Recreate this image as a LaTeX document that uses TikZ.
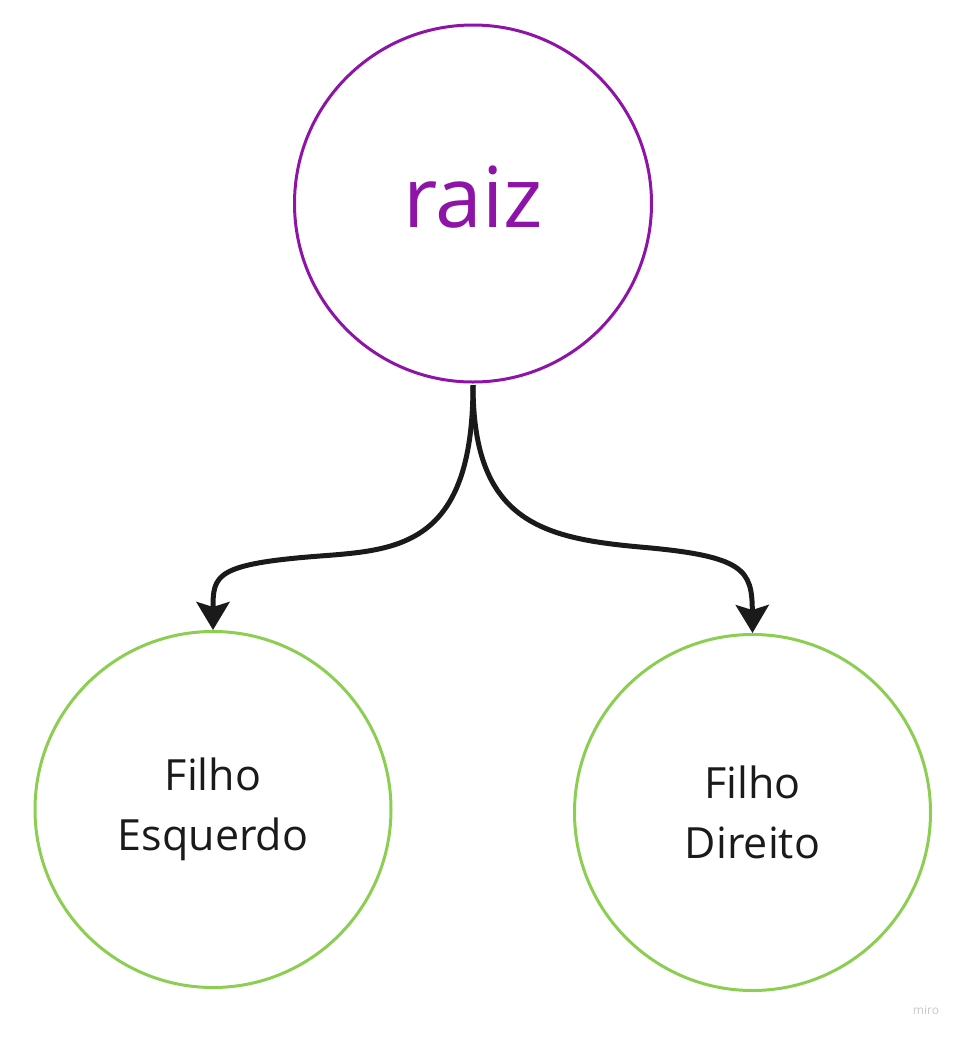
\documentclass[tikz,border=0pt]{standalone}
\usepackage{fontspec}
\setmainfont{Open Sans}
\usetikzlibrary{arrows.meta}
\definecolor{rootpurple}{RGB}{142,20,168}
\definecolor{leafgreen}{RGB}{140,206,82}
\definecolor{linedark}{RGB}{26,26,26}
\definecolor{wmgray}{RGB}{200,200,205}
\begin{document}
\begin{tikzpicture}[x=1pt,y=-1pt,
  rootnode/.style={circle,draw=rootpurple,line width=3pt,minimum size=357pt,inner sep=0pt,text=rootpurple,font=\fontsize{84}{90}\selectfont},
  leafnode/.style={circle,draw=leafgreen,line width=3pt,minimum size=356pt,inner sep=0pt,text=linedark,align=center,font=\fontsize{43}{60}\selectfont},
  edge/.style={draw=linedark,line width=5pt,-{Stealth[length=28pt,width=33pt,inset=5pt]}}]
\useasboundingbox (0,0) rectangle (964,1037);
\node[rootnode] (root) at (473,203.5) {\raisebox{13pt}{raiz}};
\node[leafnode] (left) at (213,809.5) {Filho\\Esquerdo};
\node[leafnode] (right) at (752.5,812.5) {Filho\\Direito};
\coordinate (start) at (473,385);
\coordinate (lmid) at (320,556);
\coordinate (rmid) at (640,547);
\draw[edge] (start) .. controls (473,545) and (400,550) .. (lmid)
  .. controls (215,564) and (213,575) .. (left.north);
\draw[edge] (start) .. controls (473,520) and (540,538) .. (rmid)
  .. controls (745,556) and (752,570) .. (right.north);
\node[text=wmgray,font=\fontsize{12}{13}\selectfont] (wm) at (926,1010) {miro};
\end{tikzpicture}
\end{document}
